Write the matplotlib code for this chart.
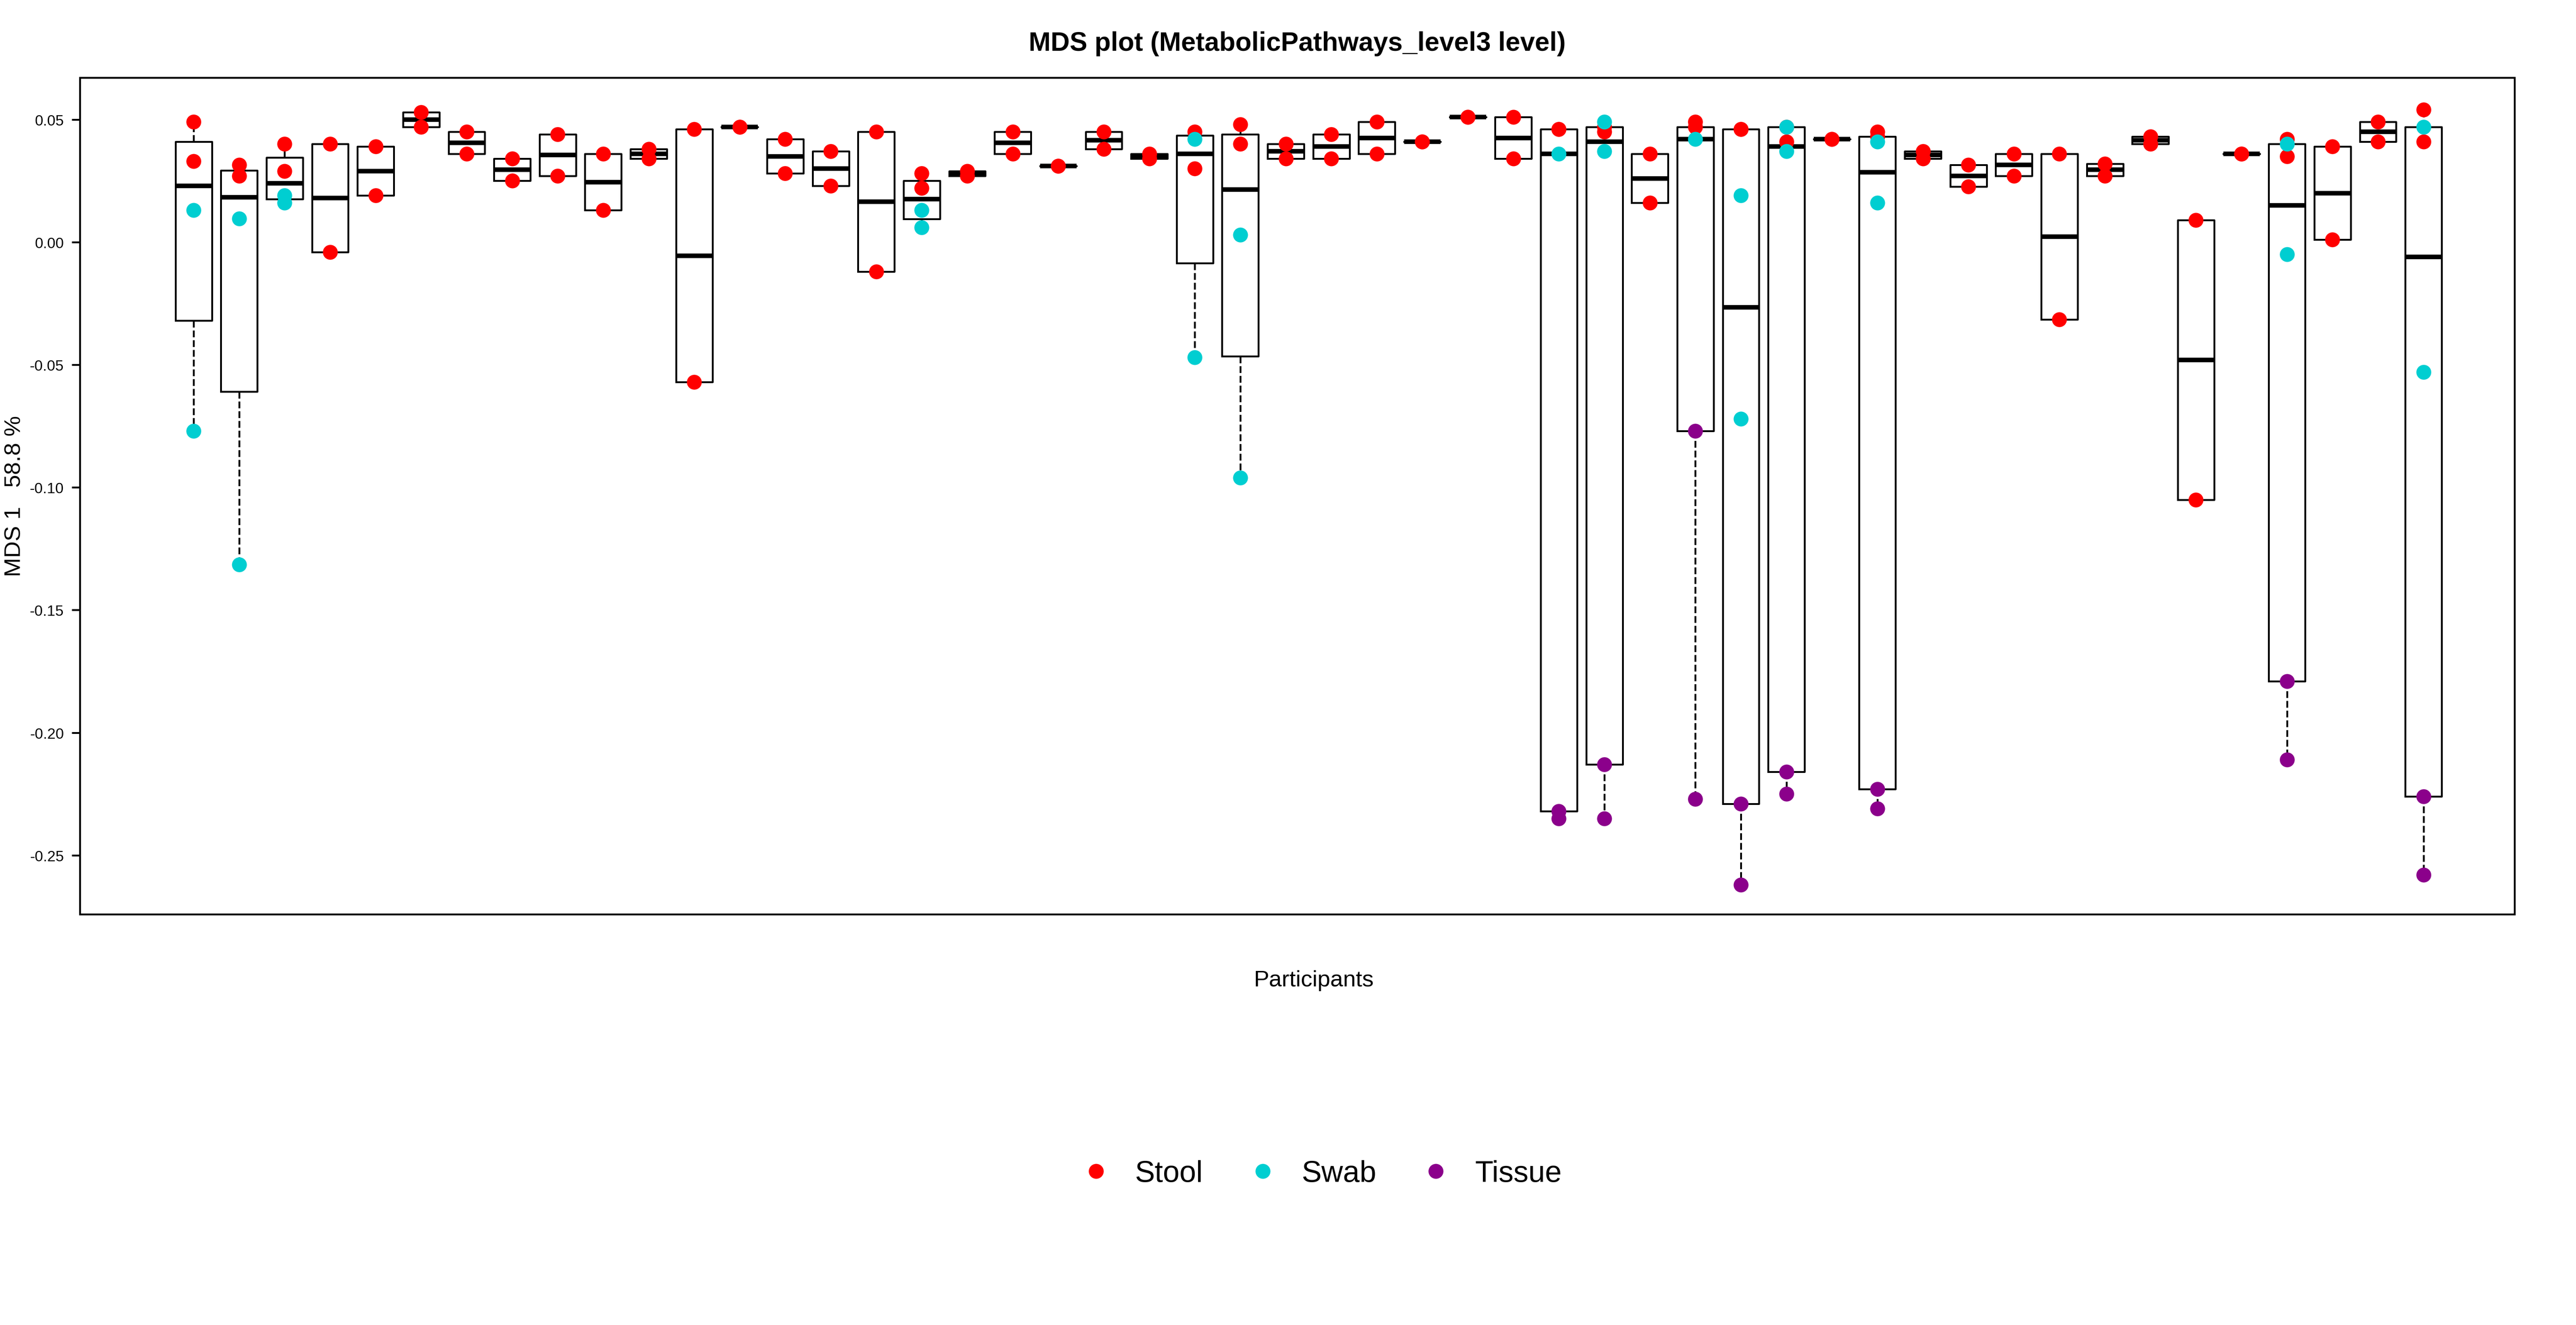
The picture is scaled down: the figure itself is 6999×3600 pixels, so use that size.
import matplotlib
matplotlib.use('Agg')
import matplotlib.pyplot as plt
import numpy as np

plt.rcParams['font.family'] = ['Liberation Sans', 'DejaVu Sans']

# values per participant
stool = [[0.049, 0.033], [0.0315, 0.027], [0.040, 0.029], [0.040, -0.004], [0.039, 0.019],
         [0.053, 0.047], [0.045, 0.036], [0.034, 0.025], [0.044, 0.027], [0.036, 0.013],
         [0.038, 0.034], [0.046, -0.057], [0.047, 0.047], [0.042, 0.028], [0.037, 0.023],
         [0.045, -0.012], [0.028, 0.022], [0.029, 0.027], [0.045, 0.036], [0.031, 0.031],
         [0.045, 0.038], [0.036, 0.034], [0.045, 0.030], [0.048, 0.040], [0.040, 0.034],
         [0.044, 0.034], [0.049, 0.036], [0.041, 0.041], [0.051, 0.051], [0.051, 0.034],
         [0.046, 0.046], [0.045, 0.047], [0.036, 0.016], [0.049, 0.047], [0.046, 0.046],
         [0.047, 0.041], [0.042, 0.042], [0.045, 0.043], [0.037, 0.034], [0.0315, 0.0226],
         [0.036, 0.027], [0.036, -0.0315], [0.032, 0.027], [0.043, 0.040], [0.009, -0.105],
         [0.036, 0.036], [0.042, 0.035], [0.039, 0.001], [0.049, 0.041], [0.054, 0.041]]
swab = {0: [0.013, -0.077], 1: [0.0096, -0.1315], 2: [0.019, 0.016], 16: [0.013, 0.006],
        22: [0.042, -0.047], 23: [0.003, -0.096], 30: [0.036], 31: [0.049, 0.037],
        33: [0.042], 34: [0.019, -0.072], 35: [0.047, 0.037], 37: [0.041, 0.016],
        46: [0.040, -0.005], 49: [0.047, -0.053]}
tissue = {30: [-0.232, -0.235], 31: [-0.213, -0.235], 33: [-0.077, -0.227],
          34: [-0.229, -0.262], 35: [-0.216, -0.225], 37: [-0.223, -0.231],
          46: [-0.179, -0.211], 49: [-0.226, -0.258]}

n = len(stool)
pos = np.arange(1, n + 1)

def fivenum_stats(x):
    x = np.sort(np.asarray(x))
    m = len(x)
    n4 = np.floor((m + 3) / 2) / 2
    d = [1, n4, (m + 1) / 2, m + 1 - n4, m]
    f = [0.5 * (x[int(np.floor(i)) - 1] + x[int(np.ceil(i)) - 1]) for i in d]
    iqr = f[3] - f[1]
    inside = x[(x >= f[1] - 1.5 * iqr) & (x <= f[3] + 1.5 * iqr)]
    return dict(med=f[2], q1=f[1], q3=f[3], whislo=inside.min(), whishi=inside.max(), fliers=[])

stats = []
for i in range(n):
    allv = stool[i] + swab.get(i, []) + tissue.get(i, [])
    stats.append(fivenum_stats(allv))

fig = plt.figure(figsize=(15.59, 8.02), dpi=449)
ax = fig.add_axes([0.031, 0.31, 0.945, 0.631])
ax.bxp(stats, positions=pos, widths=0.8, showcaps=False, showfliers=False,
       boxprops=dict(color='black', lw=0.8),
       whiskerprops=dict(color='black', lw=0.8, linestyle='--'),
       medianprops=dict(color='black', lw=2))

for i in range(n):
    ax.scatter([pos[i]] * len(stool[i]), stool[i], s=42, color='#FF0000', zorder=3, lw=0)
for i, v in swab.items():
    ax.scatter([pos[i]] * len(v), v, s=42, color='#00CED1', zorder=3, lw=0)
for i, v in tissue.items():
    ax.scatter([pos[i]] * len(v), v, s=42, color='#8B008B', zorder=3, lw=0)

ax.set_xlim(-1.5, 52.0)
ax.set_ylim(-0.274, 0.067)
ax.set_xticks([])
yt = [-0.25, -0.20, -0.15, -0.10, -0.05, 0.00, 0.05]
ax.set_yticks(yt)
ax.set_yticklabels(['%.2f' % t for t in yt], fontsize=6.5)
ax.set_ylabel('MDS 1   58.8 %', fontsize=10, labelpad=2)
ax.set_title('MDS plot (MetabolicPathways_level3 level)', fontsize=11.5,
             fontweight='bold', pad=12)
fig.text(0.51, 0.26, 'Participants', ha='center', va='center', fontsize=10)

h = [plt.Line2D([], [], marker='o', ls='', color=c, markersize=5.5)
     for c in ['#FF0000', '#00CED1', '#8B008B']]
fig.legend(h, ['Stool', 'Swab', 'Tissue'], loc='center', bbox_to_anchor=(0.51, 0.114),
           ncol=3, frameon=False, fontsize=13, handletextpad=0.3, columnspacing=1.0)

fig.savefig('out.png', dpi=449)
